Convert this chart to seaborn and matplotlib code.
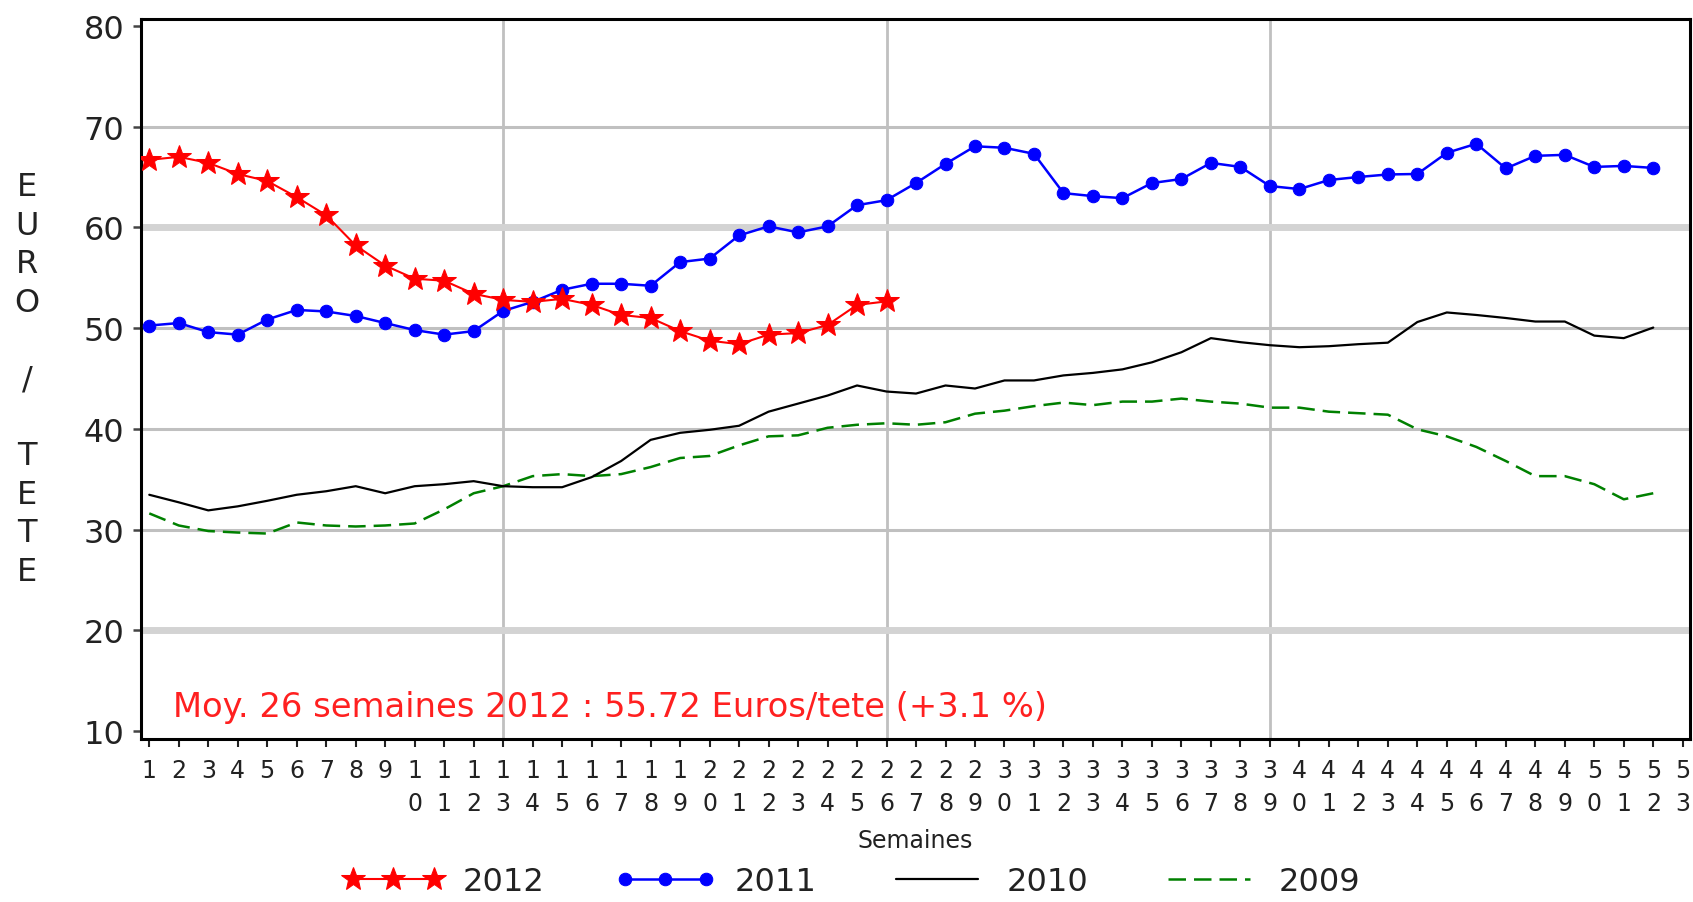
import numpy as np
import pandas as pd
import matplotlib
matplotlib.use("Agg")
import matplotlib.pyplot as plt
import seaborn as sns

# semaines (axe x)
semaines = list(range(1, 54))

# prix moyen euro / tete par semaine
prix_2012 = [66.7, 67.0, 66.4, 65.3, 64.6, 63.0, 61.2, 58.2, 56.2, 54.9,
             54.7, 53.4, 52.8, 52.6, 52.9, 52.3, 51.3, 51.0, 49.7, 48.75,
             48.4, 49.35, 49.5, 50.3, 52.3, 52.65]
prix_2011 = [50.25, 50.5, 49.6, 49.35, 50.85, 51.8, 51.65, 51.2, 50.5, 49.8,
             49.35, 49.7, 51.7, 52.6, 53.8, 54.4, 54.4, 54.2, 56.55, 56.9,
             59.2, 60.1, 59.5, 60.1, 62.2, 62.7, 64.4, 66.3, 68.05, 67.9,
             67.3, 63.4, 63.1, 62.9, 64.4, 64.8, 66.4, 66.0, 64.1, 63.8,
             64.7, 65.0, 65.25, 65.3, 67.4, 68.3, 65.85, 67.1, 67.2, 66.0,
             66.1, 65.9]
prix_2010 = [33.45, 32.7, 31.9, 32.3, 32.85, 33.45, 33.8, 34.3, 33.6, 34.3,
             34.5, 34.8, 34.3, 34.2, 34.2, 35.2, 36.8, 38.9, 39.6, 39.9,
             40.3, 41.7, 42.5, 43.3, 44.3, 43.7, 43.5, 44.3, 44.0, 44.8,
             44.8, 45.3, 45.55, 45.9, 46.6, 47.6, 49.0, 48.6, 48.3, 48.1,
             48.2, 48.4, 48.55, 50.6, 51.55, 51.3, 51.0, 50.65, 50.65, 49.25,
             49.0, 50.05]
prix_2009 = [31.6, 30.4, 29.85, 29.7, 29.6, 30.7, 30.4, 30.3, 30.4, 30.6,
             32.0, 33.6, 34.3, 35.3, 35.5, 35.3, 35.5, 36.2, 37.1, 37.3,
             38.35, 39.25, 39.35, 40.1, 40.4, 40.55, 40.4, 40.65, 41.5, 41.8,
             42.25, 42.6, 42.35, 42.7, 42.7, 43.0, 42.7, 42.5, 42.1, 42.1,
             41.7, 41.55, 41.4, 39.95, 39.25, 38.2, 36.8, 35.3, 35.3, 34.5,
             33.0, 33.6]

annees = ["2012", "2011", "2010", "2009"]
series = {"2012": prix_2012, "2011": prix_2011, "2010": prix_2010, "2009": prix_2009}

df = pd.concat([pd.DataFrame({"semaine": semaines[:len(v)], "prix": v, "annee": a})
                for a, v in series.items()], ignore_index=True)

styles = {
    "2012": dict(color="#ff0000", marker="*", markersize=18, markeredgecolor="#ff0000",
                 markerfacecolor="#ff0000", linewidth=1.5, zorder=5),
    "2011": dict(color="#0000ff", marker="o", markersize=9, markeredgecolor="#0000ff",
                 markerfacecolor="#0000ff", linewidth=1.8, zorder=4),
    "2010": dict(color="#000000", linewidth=1.6, zorder=3),
    "2009": dict(color="#008000", linewidth=1.8, linestyle=(0, (7, 3.2)), zorder=3),
}

sns.set_style("white")
plt.rcParams["font.family"] = ["DejaVu Sans"]

fig = plt.figure(figsize=(16.93, 9.03), dpi=100)
ax = fig.add_axes([0.0833, 0.1805, 0.915, 0.7975])

for an in ["2009", "2010", "2011", "2012"]:
    d = df[df["annee"] == an]
    sns.lineplot(data=d, x="semaine", y="prix", ax=ax, label=an, errorbar=None, **styles[an])

# axes
ax.set_xlim(0.72, 53.25)
ax.set_ylim(9.2, 80.7)
ax.set_yticks(range(10, 81, 10))
ax.set_xticks(semaines)
ax.set_xticklabels(["\n".join(str(s)) for s in semaines], fontsize=17,
                   linespacing=1.45, color="#222222")
ax.tick_params(axis="y", labelsize=23, labelcolor="#222222", length=6, width=1.8,
               pad=6, left=True, color="#444444")
ax.tick_params(axis="x", which="major", length=6, width=1.5, pad=8, bottom=True,
               color="#222222")

# grille
ax.xaxis.remove_overlapping_locs = False
ax.set_xticks([13, 26, 39], minor=True)
ax.tick_params(axis="x", which="minor", length=0)
ax.grid(True, axis="x", which="minor", color="#c0c0c0", linewidth=2)
ax.grid(True, axis="y", which="major", color="#c0c0c0", linewidth=2.2)
for val, gl in zip(ax.get_yticks(), ax.get_ygridlines()):
    if val in (10, 80):
        gl.set_visible(False)
    elif val in (20, 60):
        gl.set_color("#d3d3d3")
        gl.set_linewidth(5)
ax.set_axisbelow(True)

for sp in ax.spines.values():
    sp.set_visible(True)
    sp.set_color("black")
    sp.set_linewidth(2.2)

# titres des axes
ax.set_ylabel("E\nU\nR\nO\n\n/\n\nT\nE\nT\nE", rotation=0, fontsize=23,
              linespacing=1.31, color="#222222", ha="center", va="center")
ax.yaxis.set_label_coords(-0.0736, 0.5)
ax.set_xlabel("Semaines", fontsize=17, color="#222222", va="center")
ax.xaxis.set_label_coords(0.5, -0.140)

# moyenne
ax.text(1.8, 11.5, "Moy. 26 semaines 2012 : 55.72 Euros/tete (+3.1 %)",
        color="#ff2020", fontsize=24.3, ha="left", va="baseline")

# legende
handles, labels = ax.get_legend_handles_labels()
ax.get_legend().remove()
ordre = [labels.index(a) for a in annees]
fig.legend([handles[i] for i in ordre], [labels[i] for i in ordre],
           loc="lower center", bbox_to_anchor=(0.503, -0.012), ncol=4, frameon=False,
           fontsize=23, handlelength=3.15, handletextpad=0.6, columnspacing=2.2,
           numpoints=3, borderpad=0, labelcolor="#222222")

fig.savefig("out.png", dpi=100)
